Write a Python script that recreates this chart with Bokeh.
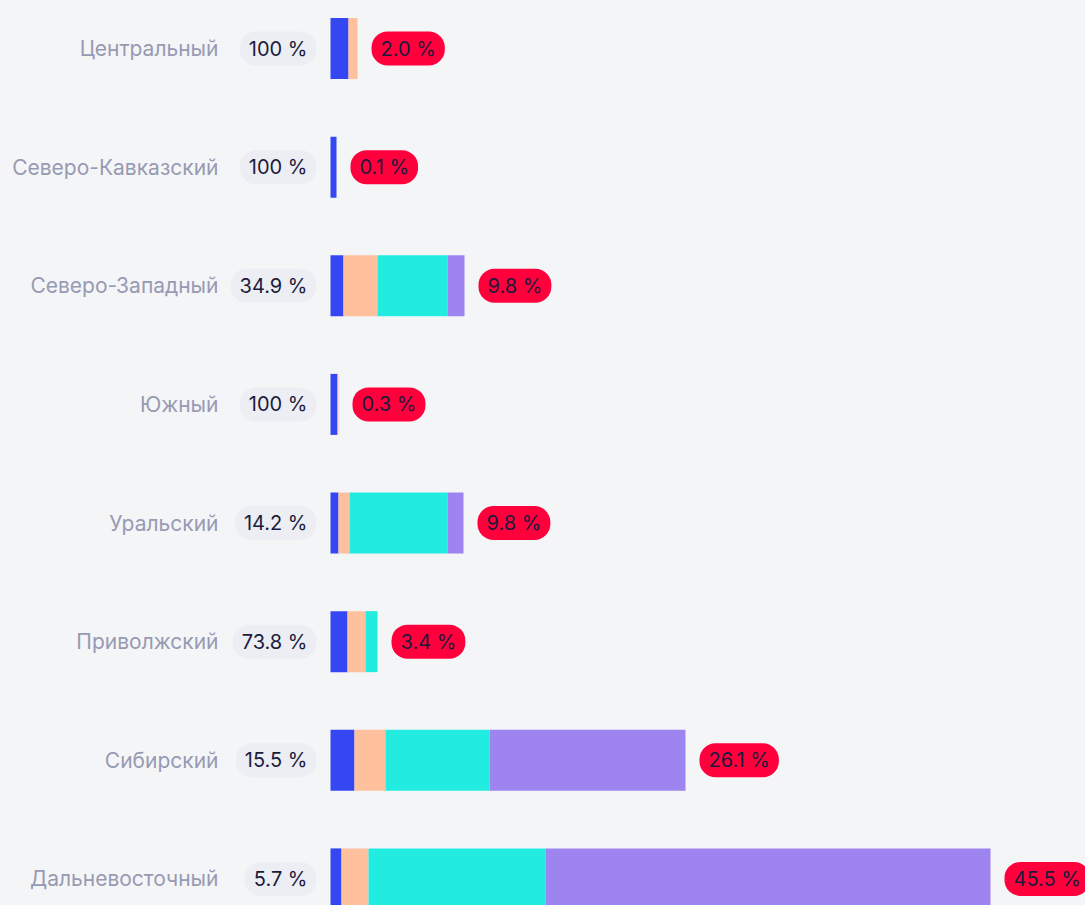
import numpy as np
from bokeh.plotting import figure
from bokeh.models import ColumnDataSource, Range1d
from bokeh.core.properties import value
from bokeh.embed import file_html
from bokeh.resources import INLINE

# ---- data ----
regions = ["Центральный", "Северо-Кавказский", "Северо-Западный", "Южный",
           "Уральский", "Приволжский", "Сибирский", "Дальневосточный"]
seg_a = [18, 6, 13, 7, 8, 17, 24, 11]
seg_b = [9, 0, 34, 1, 11, 18, 31, 27]
seg_c = [0, 0, 70, 0, 98, 12, 104, 177]
seg_d = [0, 0, 17, 0, 16, 0, 196, 445]
share_labels = ["100 %", "100 %", "34.9 %", "100 %", "14.2 %", "73.8 %", "15.5 %", "5.7 %"]
total_labels = ["2.0 %", "0.1 %", "9.8 %", "0.3 %", "9.8 %", "3.4 %", "26.1 %", "45.5 %"]

stack_names = ["a", "b", "c", "d"]
colors = ["#3447f2", "#ffc09d", "#22ebdf", "#9e84ee"]

W, H = 1085, 905
row_px = 118.63
left_px = 330

y = list(range(len(regions)))
total = [a + b + c + d for a, b, c, d in zip(seg_a, seg_b, seg_c, seg_d)]

source = ColumnDataSource(dict(
    y=y, region=regions, a=seg_a, b=seg_b, c=seg_c, d=seg_d,
    base=[0] * len(regions), total=total,
    share=share_labels, tot=total_labels,
))

top_val = -48.0 / row_px
p = figure(
    width=W, height=H, output_backend="svg", toolbar_location=None,
    x_range=Range1d(-left_px, W - left_px),
    y_range=Range1d(top_val + H / row_px, top_val),
    min_border=0, outline_line_color=None,
    background_fill_color="#f4f5f7", border_fill_color="#f4f5f7",
)
p.axis.visible = False
p.grid.visible = False

p.hbar_stack(stack_names, y="y", height=61 / row_px, color=colors,
             line_color=None, source=source)

font = value("Inter")

p.text(x="base", y="y", text="region", source=source,
       x_offset=-112, text_align="right", text_baseline="middle",
       text_font=font, text_font_size="21px", text_color="#979ab3")

p.text(x="base", y="y", text="share", source=source,
       x_offset=-14, text_align="right", text_baseline="middle",
       text_font=font, text_font_size="20px", text_color="#1b1c3b",
       background_fill_color="#eceef3", border_radius=16, padding=(9, 5))

p.text(x="total", y="y", text="tot", source=source,
       x_offset=14, text_align="left", text_baseline="middle",
       text_font=font, text_font_size="20px", text_color="#1d1a3b",
       background_fill_color="#ff003d", border_radius=16, padding=(9, 5))

html = file_html(p, INLINE)
html = html.replace("<head>", "<head><style>body{background:#f4f5f7;}</style>", 1)
open("out.html", "w").write(html)
